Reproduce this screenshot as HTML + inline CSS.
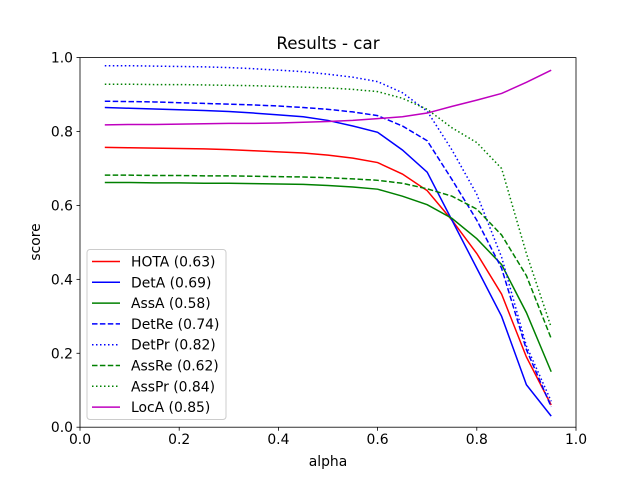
<!DOCTYPE html>
<html><head><meta charset="utf-8"><style>
body{margin:0;background:#fff;}
svg text{font-family:"DejaVu Sans","Liberation Sans",sans-serif;fill:#000;}
</style></head><body>
<svg id="chart" width="640" height="480" xmlns="http://www.w3.org/2000/svg">
<rect width="640" height="480" fill="#fff"/>
<g id="plot"></g>
</svg>
<script>
const alphas=[0.05,0.1,0.15,0.2,0.25,0.3,0.35,0.4,0.45,0.5,0.55,0.6,0.65,0.7,0.75,0.8,0.85,0.9,0.95];
const hota=[0.757,0.756,0.755,0.754,0.753,0.751,0.748,0.745,0.742,0.736,0.728,0.716,0.685,0.64,0.56,0.47,0.36,0.19,0.06];
const deta=[0.865,0.863,0.861,0.859,0.857,0.854,0.85,0.845,0.84,0.83,0.815,0.798,0.75,0.69,0.56,0.43,0.30,0.115,0.03];
const assa=[0.662,0.662,0.661,0.661,0.66,0.66,0.659,0.658,0.657,0.654,0.65,0.644,0.625,0.602,0.565,0.51,0.44,0.31,0.15];
const detre=[0.882,0.881,0.88,0.878,0.876,0.874,0.872,0.869,0.865,0.86,0.853,0.843,0.815,0.775,0.67,0.56,0.43,0.21,0.055];
const detpr=[0.978,0.978,0.977,0.976,0.975,0.973,0.97,0.966,0.962,0.955,0.947,0.935,0.905,0.855,0.75,0.63,0.46,0.22,0.07];
const assre=[0.682,0.682,0.681,0.681,0.68,0.68,0.679,0.678,0.677,0.675,0.672,0.668,0.66,0.645,0.625,0.59,0.52,0.41,0.24];
const asspr=[0.928,0.928,0.927,0.927,0.926,0.925,0.924,0.922,0.92,0.918,0.914,0.908,0.89,0.86,0.81,0.77,0.70,0.47,0.27];
const loca=[0.818,0.819,0.819,0.82,0.821,0.822,0.822,0.823,0.825,0.827,0.83,0.835,0.84,0.85,0.868,0.885,0.903,0.933,0.966];
const xTicks=["0.0","0.2","0.4","0.6","0.8","1.0"];
const yTicks=["0.0","0.2","0.4","0.6","0.8","1.0"];
const seriesNames=["HOTA (0.63)","DetA (0.69)","AssA (0.58)","DetRe (0.74)","DetPr (0.82)","AssRe (0.62)","AssPr (0.84)","LocA (0.85)"];
const seriesData=[hota,deta,assa,detre,detpr,assre,asspr,loca];
const colors=["#ff0000","#0000ff","#008000","#0000ff","#0000ff","#008000","#008000","#bf00bf"];
const dashes=["","","","5.5,2.4","1.5,2.5","","",""];
dashes[5]="5.5,2.4";dashes[6]="1.5,2.5";
const L=80,R=576,T=57.6,B=427.2;
const xs=v=>L+(R-L)*v, ys=v=>B-(B-T)*v;
const NS="http://www.w3.org/2000/svg";
const g=document.getElementById('plot');
function mk(t,a,p){const e=document.createElementNS(NS,t);for(const k in a)e.setAttribute(k,a[k]);(p||g).appendChild(e);return e;}
// series
seriesData.forEach((d,i)=>{
 const pts=d.map((v,j)=>xs(alphas[j]).toFixed(2)+","+ys(v).toFixed(2)).join(" ");
 const pl=mk('polyline',{points:pts,fill:'none',stroke:colors[i],'stroke-width':1.5});
 if(dashes[i])pl.setAttribute('stroke-dasharray',dashes[i]);
 
 
});
// axes frame
const fr=mk('rect',{x:L,y:T,width:R-L,height:B-T,fill:'none',stroke:'#000','stroke-width':0.8});


xTicks.forEach((t,i)=>{const x=xs(parseFloat(t));
 mk('line',{x1:x,x2:x,y1:B,y2:B+3.5,stroke:'#000','stroke-width':0.8});
 const tx=mk('text',{x:x,y:B+17,'text-anchor':'middle','font-size':13.9});tx.textContent=t;
 
 
});
yTicks.forEach((t,i)=>{const y=ys(parseFloat(t));
 mk('line',{x1:L-3.5,x2:L,y1:y,y2:y,stroke:'#000','stroke-width':0.8});
 const tx=mk('text',{x:L-7,y:y+5,'text-anchor':'end','font-size':13.9});tx.textContent=t;
 
 
});
let t=mk('text',{x:328,y:49,'text-anchor':'middle','font-size':16.7});t.textContent="Results - car";


t=mk('text',{x:328,y:466,'text-anchor':'middle','font-size':13.9});t.textContent="alpha";


t=mk('text',{x:0,y:0,'text-anchor':'middle','font-size':13.9,transform:'translate(40,242) rotate(-90)'});t.textContent="score";


// legend
const lg=mk('g',{});


mk('rect',{x:87,y:249.5,width:139,height:170,rx:3,fill:'#fff','fill-opacity':0.8,stroke:'#ccc','stroke-width':1},lg);
seriesNames.forEach((n,i)=>{const y=261.5+i*20.8;
 const ln=mk('line',{x1:92,x2:120,y1:y,y2:y,stroke:colors[i],'stroke-width':1.5},lg);
 if(dashes[i])ln.setAttribute('stroke-dasharray',dashes[i]);
 const tx=mk('text',{x:131,y:y+5,'font-size':13.9},lg);tx.textContent=n;
 
 
});
</script>
</body></html>
